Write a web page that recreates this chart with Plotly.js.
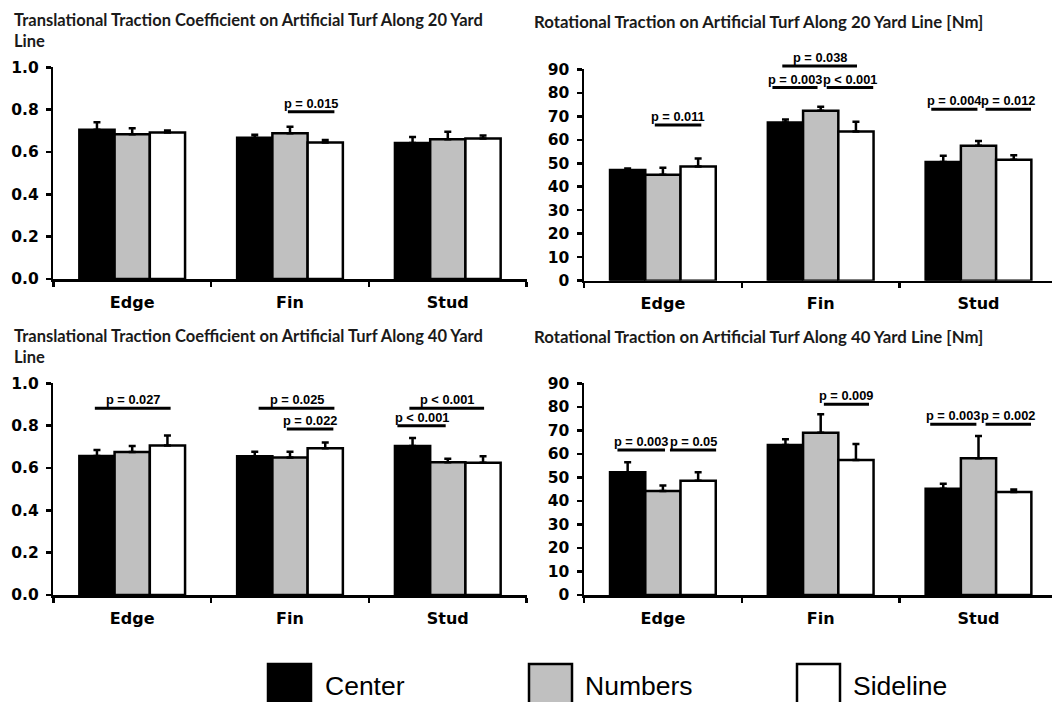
<!DOCTYPE html>
<html><head><meta charset="utf-8">
<script src="https://cdn.plot.ly/plotly-3.0.1.min.js"></script>
<style>html,body{margin:0;padding:0;background:#fff}#chart{width:1052px;height:702px}</style>
</head><body><div id="chart"></div>
<script>
// ---------- data ----------
const categories = ['Edge', 'Fin', 'Stud'];
const seriesNames = ['Center', 'Numbers', 'Sideline'];

const panelTitles = [
  'Translational Traction Coefficient on Artificial Turf Along 20 Yard',
  'Rotational Traction on Artificial Turf Along 20 Yard Line [Nm]',
  'Translational Traction Coefficient on Artificial Turf Along 40 Yard',
  'Rotational Traction on Artificial Turf Along 40 Yard Line [Nm]'
];
const titleSecondLine = ['Line', '', 'Line', ''];

// Translational traction coefficient, 20 yard line
const trans20Center   = [0.705, 0.667, 0.643];
const trans20Numbers  = [0.684, 0.689, 0.660];
const trans20Sideline = [0.692, 0.645, 0.664];
const trans20CenterErr   = [0.036, 0.014, 0.028];
const trans20NumbersErr  = [0.028, 0.030, 0.035];
const trans20SidelineErr = [0.010, 0.011, 0.014];

// Rotational traction [Nm], 20 yard line
const rot20Center   = [47.1, 67.3, 50.5];
const rot20Numbers  = [45.1, 72.4, 57.5];
const rot20Sideline = [48.6, 63.5, 51.5];
const rot20CenterErr   = [0.7, 1.3, 2.7];
const rot20NumbersErr  = [3.0, 1.7, 2.0];
const rot20SidelineErr = [3.4, 4.2, 1.9];

// Translational traction coefficient, 40 yard line
const trans40Center   = [0.657, 0.655, 0.704];
const trans40Numbers  = [0.676, 0.650, 0.627];
const trans40Sideline = [0.706, 0.693, 0.625];
const trans40CenterErr   = [0.028, 0.022, 0.038];
const trans40NumbersErr  = [0.028, 0.027, 0.017];
const trans40SidelineErr = [0.048, 0.027, 0.030];

// Rotational traction [Nm], 40 yard line
const rot40Center   = [52.2, 63.8, 45.2];
const rot40Numbers  = [44.2, 69.0, 58.1];
const rot40Sideline = [48.6, 57.4, 43.8];
const rot40CenterErr   = [4.2, 2.4, 2.1];
const rot40NumbersErr  = [2.3, 7.8, 9.5];
const rot40SidelineErr = [3.6, 6.8, 1.0];

// significance brackets: panel, category, bar span (0=Center..2=Sideline), level, label
const sigPanel = [0, 1, 1, 1, 1, 1, 1, 2, 2, 2, 2, 2, 3, 3, 3, 3, 3];
const sigCat   = [1, 0, 1, 1, 1, 2, 2, 0, 1, 1, 2, 2, 0, 0, 1, 2, 2];
const sigFrom  = [0.94, 0.77, -0.37, 1.17, -0.09, -0.34, 1.20, -0.06, 0.11, 0.91, -0.09, -0.43, -0.29, 1.20, 1.09, -0.37, 1.20];
const sigTo    = [2.26, 2.09, 0.91, 2.49, 2.03, 0.97, 2.49, 2.09, 2.26, 2.23, 2.03, 0.94, 1.06, 2.51, 2.37, 0.94, 2.49];
const sigLevel = [0.79, 66.3, 82.2, 82.2, 91.4, 73.0, 73.0, 0.882, 0.882, 0.784, 0.882, 0.80, 61.6, 61.6, 81.1, 72.6, 72.6];
const sigText  = ['p = 0.015', 'p = 0.011', 'p = 0.003', 'p < 0.001', 'p = 0.038', 'p = 0.004', 'p = 0.012',
                  'p = 0.027', 'p = 0.025', 'p = 0.022', 'p < 0.001', 'p < 0.001',
                  'p = 0.003', 'p = 0.05', 'p = 0.009', 'p = 0.003', 'p = 0.002'];

// ---------- layout geometry ----------
const W = 1052, H = 702;
const catW = 157.8;
const panels = [
  {vals: [trans20Center, trans20Numbers, trans20Sideline], errs: [trans20CenterErr, trans20NumbersErr, trans20SidelineErr],
   left: 53.3, ybot: 279, ytop: 67.3, ymax: 1, dtick: 0.2, fmt: '.1f', tx: 12, ty: 20, ts: 16.5},
  {vals: [rot20Center, rot20Numbers, rot20Sideline], errs: [rot20CenterErr, rot20NumbersErr, rot20SidelineErr],
   left: 584, ybot: 280.7, ytop: 69.3, ymax: 90, dtick: 10, fmt: 'd', tx: 532, ty: 21, ts: 16.8},
  {vals: [trans40Center, trans40Numbers, trans40Sideline], errs: [trans40CenterErr, trans40NumbersErr, trans40SidelineErr],
   left: 53.3, ybot: 595, ytop: 383.3, ymax: 1, dtick: 0.2, fmt: '.1f', tx: 12, ty: 336, ts: 16.5},
  {vals: [rot40Center, rot40Numbers, rot40Sideline], errs: [rot40CenterErr, rot40NumbersErr, rot40SidelineErr],
   left: 584, ybot: 595, ytop: 383.3, ymax: 90, dtick: 10, fmt: 'd', tx: 532, ty: 336, ts: 16.8}
];
const fills = ['#000000', '#c0c0c0', '#ffffff'];
const bargap = 0.33;
const bw = (1 - bargap) / 3;

const traces = [];
const layout = {
  width: W, height: H,
  margin: {l: 0, r: 0, t: 0, b: 0},
  paper_bgcolor: '#ffffff', plot_bgcolor: 'rgba(0,0,0,0)',
  barmode: 'group', bargap: bargap, bargroupgap: 0,
  showlegend: false,
  shapes: [], annotations: []
};

const tickFontY = {family: 'DejaVu Sans', size: 15.5, color: '#000', weight: 'bold'};
const tickFontX = {family: 'DejaVu Sans', size: 16, color: '#000', weight: 'bold'};
const sigFont = {family: 'Liberation Sans, Arial', size: 12.8, color: '#000', weight: 'bold'};

panels.forEach((p, i) => {
  const n = i + 1;
  const xk = n === 1 ? 'x' : 'x' + n;
  const yk = n === 1 ? 'y' : 'y' + n;
  const right = Math.min(p.left + 3 * catW, W);
  const rEnd = -0.5 + (right - p.left) / catW;
  layout[n === 1 ? 'xaxis' : 'xaxis' + n] = {
    type: 'category', domain: [p.left / W, right / W], range: [-0.5, rEnd],
    anchor: yk, showline: true, linecolor: '#000', linewidth: 2.5,
    ticks: 'outside', tickson: 'boundaries', ticklen: 5, tickwidth: 2.5, tickcolor: '#000',
    tickfont: tickFontX, ticklabelstandoff: 7, showgrid: false, zeroline: false, fixedrange: true
  };
  layout[n === 1 ? 'yaxis' : 'yaxis' + n] = {
    domain: [1 - p.ybot / H, 1 - p.ytop / H], range: [0, p.ymax], dtick: p.dtick, tick0: 0,
    tickformat: p.fmt, anchor: xk, showline: true, linecolor: '#000', linewidth: 2.5,
    ticks: 'outside', ticklen: 5, tickwidth: 2.5, tickcolor: '#000',
    tickfont: tickFontY, ticklabelstandoff: 4, showgrid: false, zeroline: false, fixedrange: true
  };
  seriesNames.forEach((s, k) => {
    traces.push({
      type: 'bar', name: s, x: categories, y: p.vals[k], xaxis: xk, yaxis: yk,
      marker: {color: fills[k], line: {color: '#000', width: 2.5}},
      error_y: {type: 'data', symmetric: false, array: p.errs[k], arrayminus: p.errs[k].map(() => 0),
                color: '#000', thickness: 2.5, width: 3.5},
      hoverinfo: 'skip', cliponaxis: false
    });
  });
  const titleFont = {family: 'Lato', size: p.ts, color: '#1a1a1a', weight: 'bold'};
  layout.annotations.push({xref: 'paper', yref: 'paper', x: p.tx / W, y: 1 - p.ty / H,
    xanchor: 'left', yanchor: 'middle', text: panelTitles[i], showarrow: false, font: titleFont});
  if (titleSecondLine[i]) {
    layout.annotations.push({xref: 'paper', yref: 'paper', x: p.tx / W, y: 1 - (p.ty + 20.5) / H,
      xanchor: 'left', yanchor: 'middle', text: titleSecondLine[i], showarrow: false, font: titleFont});
  }
});

// significance brackets
sigText.forEach((t, j) => {
  const p = panels[sigPanel[j]];
  const n = sigPanel[j] + 1;
  const xk = n === 1 ? 'x' : 'x' + n;
  const yk = n === 1 ? 'y' : 'y' + n;
  const x0 = sigCat[j] + (sigFrom[j] - 1) * bw;
  const x1 = sigCat[j] + (sigTo[j] - 1) * bw;
  const yf = sigLevel[j] / p.ymax;
  layout.shapes.push({type: 'line', xref: xk, yref: yk + ' domain', x0: x0, x1: x1, y0: yf, y1: yf,
    line: {color: '#000', width: 3}});
  layout.annotations.push({xref: xk, yref: yk + ' domain', x: (x0 + x1) / 2, y: yf,
    xanchor: 'center', yanchor: 'bottom', yshift: 0, text: t, showarrow: false, font: sigFont,
    borderpad: 0});
});

// legend (drawn manually, large boxes)
const legBoxX = [268, 529, 797];
const legTextX = [324, 584, 852];
seriesNames.forEach((s, k) => {
  layout.shapes.push({type: 'rect', xref: 'paper', yref: 'paper',
    x0: legBoxX[k] / W, x1: (legBoxX[k] + 43) / W, y0: 1 - 706 / H, y1: 1 - 664 / H,
    fillcolor: fills[k], line: {color: '#000', width: 2.5}});
  layout.annotations.push({xref: 'paper', yref: 'paper', x: legTextX[k] / W, y: 1 - 686 / H,
    xanchor: 'left', yanchor: 'middle', text: s, showarrow: false, borderpad: 0,
    font: {family: 'Liberation Sans, Arial', size: 26.5, color: '#000'}});
});

Plotly.newPlot('chart', traces, layout, {displayModeBar: false, staticPlot: true});
</script>
</body></html>
